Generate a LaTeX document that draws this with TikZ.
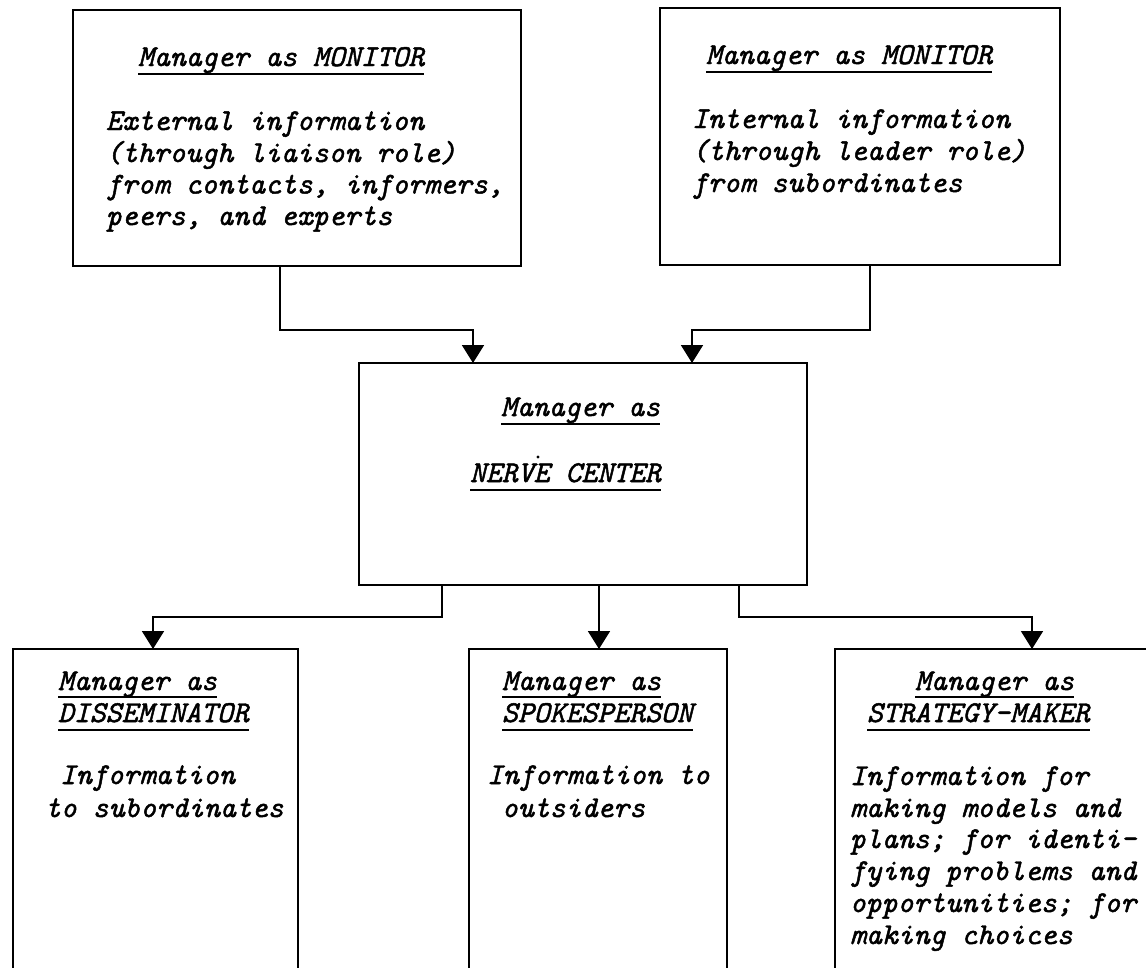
\documentclass[tikz,border=0pt]{standalone}
\usepackage{fontspec}
\newfontface\tw{lmmono10-italic.otf}[FakeBold=1.6]
\usetikzlibrary{arrows.meta}
\begin{document}
\begin{tikzpicture}[x=1pt,y=-1pt,
  box/.style={draw, line width=1.8pt, rectangle, inner sep=0pt, outer sep=0pt, anchor=north west},
  lbl/.style={font=\tw\fontsize{30.3pt}{32pt}\selectfont, anchor=base west, inner sep=0pt, outer sep=0pt},
  conn/.style={line width=1.8pt, -{Triangle[width=22pt,length=18pt]}},
  ul/.style={line width=1.8pt}]
\useasboundingbox (0,0) rectangle (1146,967);

% boxes
\node[box, minimum width=448pt, minimum height=256pt] (tl) at (73,10) {};
\node[box, minimum width=400pt, minimum height=257pt] (tr) at (660,8) {};
\node[box, minimum width=448pt, minimum height=222pt] (nc) at (359,363) {};
\node[box, minimum width=285pt, minimum height=340pt] (bl) at (13,649) {};
\node[box, minimum width=258pt, minimum height=340pt] (bm) at (469,649) {};
\node[box, minimum width=340pt, minimum height=340pt] (br) at (835,649) {};

% top left
\node[lbl] (tlt) at (138,66) {Manager as MONITOR};
\draw[ul] ([yshift=-8pt]tlt.base west) -- ([yshift=-8pt]tlt.base east);
\node[lbl] (tl1) at (106,130) {External information};
\node[lbl] (tl2) at (106,162) {(through liaison role)};
\node[lbl] (tl3) at (106,193.5) {from contacts, informers,};
\node[lbl] (tl4) at (106,225) {peers, and experts};

% top right
\node[lbl] (trt) at (706,64) {Manager as MONITOR};
\draw[ul] ([yshift=-8pt]trt.base west) -- ([yshift=-8pt]trt.base east);
\node[lbl] (tr1) at (692,128) {Internal information};
\node[lbl] (tr2) at (692,160) {(through leader role)};
\node[lbl] (tr3) at (692,192) {from subordinates};

% nerve center
\node[lbl] (nct) at (501,416) {Manager as};
\draw[ul] ([yshift=-8pt]nct.base west) -- ([yshift=-8pt]nct.base east);
\node[lbl] (ncn) at (470,482) {NERVE CENTER};
\draw[ul] ([yshift=-8pt]ncn.base west) -- ([yshift=-8pt]ncn.base east);
\fill (538,457) circle (1.6pt);

% disseminator
\node[lbl] (blt) at (58,690) {Manager as};
\draw[ul] ([yshift=-7pt]blt.base west) -- ([yshift=-7pt]blt.base east);
\node[lbl] (bln) at (58,722) {DISSEMINATOR};
\draw[ul] ([yshift=-8pt]bln.base west) -- ([yshift=-8pt]bln.base east);
\node[lbl] (bl1) at (60,784) {Information};
\node[lbl] (bl2) at (45,817) {to subordinates};

% spokesperson
\node[lbl] (bmt) at (502,690) {Manager as};
\draw[ul] ([yshift=-7pt]bmt.base west) -- ([yshift=-7pt]bmt.base east);
\node[lbl] (bmn) at (502,722) {SPOKESPERSON};
\draw[ul] ([yshift=-8pt]bmn.base west) -- ([yshift=-8pt]bmn.base east);
\node[lbl] (bm1) at (487,784) {Information to};
\node[lbl] (bm2) at (502,817) {outsiders};

% strategy maker
\node[lbl] (brt) at (915,690) {Manager as};
\draw[ul] ([yshift=-7pt]brt.base west) -- ([yshift=-7pt]brt.base east);
\node[lbl] (brn) at (867,722) {STRATEGY-MAKER};
\draw[ul] ([yshift=-8pt]brn.base west) -- ([yshift=-8pt]brn.base east);
\node[lbl] (br1) at (850,785) {Information for};
\node[lbl] (br2) at (850,817) {making models and};
\node[lbl] (br3) at (850,848) {plans; for identi-};
\node[lbl] (br4) at (850,880) {fying problems and};
\node[lbl] (br5) at (850,912) {opportunities; for};
\node[lbl] (br6) at (850,944) {making choices};

% connectors
\draw[conn] ([xshift=207pt]tl.south west) -- ++(0,64) -| ([xshift=114pt]nc.north west);
\draw[conn] ([xshift=210pt]tr.south west) -- ++(0,65) -| ([xshift=333pt]nc.north west);
\draw[conn] ([xshift=83pt]nc.south west) -- ++(0,32) -| ([xshift=140pt]bl.north west);
\draw[conn] ([xshift=240pt]nc.south west) -- ([xshift=130pt]bm.north west);
\draw[conn] ([xshift=380pt]nc.south west) -- ++(0,32) -| ([xshift=197pt]br.north west);
\end{tikzpicture}
\end{document}
